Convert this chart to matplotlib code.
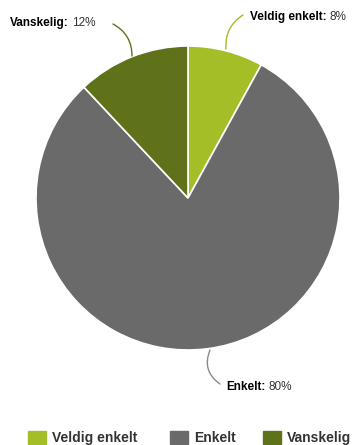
import matplotlib
matplotlib.use("Agg")
import matplotlib.pyplot as plt
from matplotlib.patches import Rectangle

plt.rcParams["font.family"] = ["Liberation Sans", "DejaVu Sans"]

labels = ["Veldig enkelt", "Enkelt", "Vanskelig"]
values = [8, 80, 12]
colors = ["#a3be26", "#6a6a6a", "#5f7219"]

W, H = 356, 445
fig = plt.figure(figsize=(W / 100, H / 100), dpi=100)
ax = fig.add_axes([0, 0, 1, 1])

# pie in pixel coordinates (y up)
cx, cy, r = 188, H - 198, 152
ax.pie(values, colors=colors, startangle=90, counterclock=False,
       center=(cx, cy), radius=r,
       wedgeprops=dict(edgecolor="white", linewidth=1.2))
ax.set_xlim(0, W)
ax.set_ylim(0, H)
ax.set_aspect("equal")
ax.axis("off")


def slice_label(x, y, name, val):
    t = ax.text(x, y, name + ":", fontsize=8.5, fontweight="bold",
                ha="left", va="center", color="#000000")
    fig.canvas.draw()
    bb = t.get_window_extent()
    ax.text(bb.x1 + 3, y, f"{val}%", fontsize=8.5, ha="left", va="center",
            color="#333333")


slice_label(10, H - 23, labels[2], values[2])
slice_label(250, H - 17, labels[0], values[0])
slice_label(226, H - 387, labels[1], values[1])

# connector curves from labels to the slices
conn = [
    ((113, H - 24), (132, H - 56), colors[2], -0.3),
    ((243, H - 15), (226, H - 49), colors[0], 0.3),
    ((220, H - 384), (210, H - 350), "#8a8a8a", -0.4),
]
for (x0, y0), (x1, y1), c, rad in conn:
    ax.annotate("", xy=(x1, y1), xytext=(x0, y0),
                arrowprops=dict(arrowstyle="-", color=c, lw=1.0,
                                shrinkA=0, shrinkB=0,
                                connectionstyle=f"arc3,rad={rad}"))

# legend along the bottom
leg_x = [28, 170, 263]
for lx, name, c in zip(leg_x, labels, colors):
    ax.add_patch(Rectangle((lx, H - 444), 18, 13, color=c))
    ax.text(lx + 24, H - 438, name, fontsize=10, fontweight="bold",
            ha="left", va="center", color="#333333")

fig.savefig("out.png", dpi=100)
